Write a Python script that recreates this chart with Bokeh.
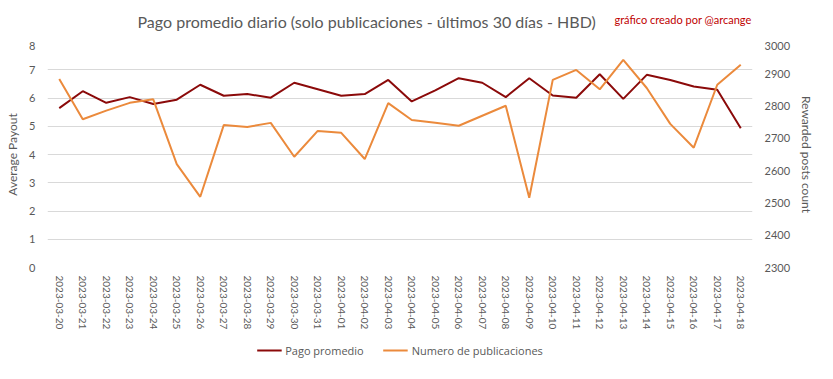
from bokeh.plotting import figure
from bokeh.layouts import column
from bokeh.models import (Range1d, LinearAxis, FactorRange, Legend, LegendItem,
                          Label, FixedTicker, ColumnDataSource)
from bokeh.embed import file_html
from bokeh.resources import INLINE

dates = ["2023-03-20", "2023-03-21", "2023-03-22", "2023-03-23", "2023-03-24",
         "2023-03-25", "2023-03-26", "2023-03-27", "2023-03-28", "2023-03-29",
         "2023-03-30", "2023-03-31", "2023-04-01", "2023-04-02", "2023-04-03",
         "2023-04-04", "2023-04-05", "2023-04-06", "2023-04-07", "2023-04-08",
         "2023-04-09", "2023-04-10", "2023-04-11", "2023-04-12", "2023-04-13",
         "2023-04-14", "2023-04-15", "2023-04-16", "2023-04-17", "2023-04-18"]

pago_promedio = [5.64, 6.24, 5.83, 6.03, 5.79, 5.94, 6.47, 6.08, 6.14, 6.01,
                 6.54, 6.31, 6.08, 6.14, 6.64, 5.88, 6.27, 6.70, 6.54, 6.03,
                 6.70, 6.09, 6.01, 6.84, 5.97, 6.82, 6.64, 6.41, 6.29, 4.93]

numero_publicaciones = [2884, 2759, 2786, 2810, 2821, 2620, 2519, 2741, 2735, 2748,
                        2643, 2723, 2717, 2636, 2809, 2757, 2748, 2739, 2770, 2801,
                        2516, 2881, 2912, 2852, 2943, 2856, 2745, 2671, 2866, 2928]

left_ticks = [0, 1, 2, 3, 4, 5, 6, 7, 8]
right_ticks = [2300, 2400, 2500, 2600, 2700, 2800, 2900, 3000]

title_text = "Pago promedio diario (solo publicaciones - últimos 30 días - HBD)"
credit_text = "gráfico creado por @arcange"
series_names = ["Pago promedio", "Numero de publicaciones"]

TXT = "#595959"
GRID = "#d9d9d9"
RED = "#8B0A0A"
ORANGE = "#EB8A3C"
FONT = "Lato"
W = 817


def bare(h, x_range, y_range):
    f = figure(width=W, height=h, output_backend="svg", toolbar_location=None,
               x_range=x_range, y_range=y_range,
               x_axis_type=None, y_axis_type=None,
               min_border_left=0, min_border_right=0, min_border_top=0, min_border_bottom=0)
    f.title.visible = False
    f.outline_line_color = None
    f.xgrid.visible = False
    f.ygrid.visible = False
    f.border_fill_color = "white"
    f.background_fill_color = "white"
    return f


# ---- title strip ----
top = bare(41, Range1d(0, 1), Range1d(0, 1))
top.add_layout(Label(x=90, y=20, x_units="screen", y_units="screen", text=title_text,
                     text_align="left", text_baseline="middle", text_color=TXT,
                     text_font=FONT, text_font_size="16px"))
top.add_layout(Label(x=704, y=22, x_units="screen", y_units="screen", text=credit_text,
                     text_align="right", text_baseline="middle", text_color="#C00000",
                     text_font=FONT, text_font_size="11px"))

# ---- main chart ----
src = ColumnDataSource(dict(d=dates, pago=pago_promedio, num=numero_publicaciones))

p = figure(width=W, height=296, output_backend="svg", toolbar_location=None,
           x_range=FactorRange(*dates, range_padding=0),
           y_range=Range1d(0, 8),
           min_border_left=47, min_border_right=65, min_border_top=0, min_border_bottom=70)
p.extra_y_ranges = {"posts": Range1d(2300, 3000)}
p.title.visible = False
p.outline_line_color = None
p.background_fill_color = "white"
p.border_fill_color = "white"
p.xgrid.grid_line_color = None
p.ygrid.grid_line_color = GRID
p.ygrid.grid_line_width = 1
p.ygrid.ticker = FixedTicker(ticks=left_ticks)

ax = p.yaxis[0]
ax.ticker = FixedTicker(ticks=left_ticks)
ax.axis_label = "Average Payout"

xa = p.xaxis[0]
xa.major_label_orientation = "vertical"

r_axis = LinearAxis(y_range_name="posts", ticker=FixedTicker(ticks=right_ticks),
                    axis_label="Rewarded posts count")
p.add_layout(r_axis, "right")

for a in [ax, xa, r_axis]:
    a.axis_line_color = None
    a.major_tick_line_color = None
    a.minor_tick_line_color = None
    a.major_tick_out = 0
    a.major_tick_in = 0
    a.minor_tick_out = 0
    a.minor_tick_in = 0
    a.major_label_text_color = TXT
    a.major_label_text_font = FONT
    a.axis_label_text_color = TXT
    a.axis_label_text_font = FONT
    a.axis_label_text_font_style = "normal"
    a.axis_label_text_font_size = "12px"
ax.major_label_text_font_size = "11px"
r_axis.major_label_text_font_size = "11px"
xa.major_label_text_font_size = "10px"
ax.major_label_standoff = 12
r_axis.major_label_standoff = 12
xa.major_label_standoff = 8
ax.axis_label_standoff = 6
r_axis.axis_label_standoff = 6

p.line("d", "pago", source=src, line_color=RED, line_width=2)
p.line("d", "num", source=src, line_color=ORANGE, line_width=2, y_range_name="posts")

# ---- legend strip ----
leg = bare(26, FactorRange(*dates, range_padding=0), Range1d(10000, 10001))
# the series lines lie outside this strip's view; only their legend entries show
g1 = leg.line("d", "pago", source=src, line_color=RED, line_width=2)
g2 = leg.line("d", "num", source=src, line_color=ORANGE, line_width=2)
legend = Legend(items=[LegendItem(label=series_names[0], renderers=[g1]),
                       LegendItem(label=series_names[1], renderers=[g2])],
                orientation="horizontal", location="center",
                label_text_font="Open Sans", label_text_font_size="11px", label_text_color=TXT,
                glyph_width=25, glyph_height=13, label_height=13, label_standoff=4,
                spacing=19, padding=0, margin=0,
                border_line_color=None, background_fill_alpha=0)
leg.add_layout(legend, "center")

page = column(top, p, leg, spacing=0)
open("out.html", "w").write(file_html(page, INLINE))
